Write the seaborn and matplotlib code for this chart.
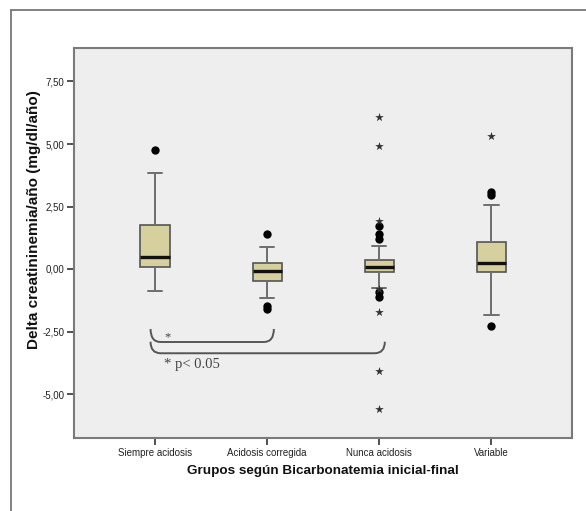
import matplotlib
matplotlib.use("Agg")
import matplotlib.pyplot as plt
import seaborn as sns
import pandas as pd
from matplotlib.path import Path
from matplotlib.patches import PathPatch
from matplotlib.lines import Line2D

# ---------------- data ----------------
categories = ["Siempre acidosis", "Acidosis corregida", "Nunca acidosis", "Variable"]
whisker_low = [-0.89, -1.17, -0.77, -1.85]
q1 = [0.07, -0.47, -0.13, -0.13]
median = [0.48, -0.07, 0.09, 0.24]
q3 = [1.76, 0.23, 0.36, 1.07]
whisker_high = [3.83, 0.87, 0.93, 2.55]

circle_groups = ["Siempre acidosis", "Acidosis corregida", "Acidosis corregida", "Acidosis corregida",
                 "Nunca acidosis", "Nunca acidosis", "Nunca acidosis", "Nunca acidosis", "Nunca acidosis",
                 "Variable", "Variable", "Variable"]
circle_values = [4.77, 1.39, -1.48, -1.60,
                 1.72, 1.39, 1.19, -0.91, -1.11,
                 3.06, 2.98, -2.27]

star_groups = ["Nunca acidosis"] * 7 + ["Variable"]
star_values = [6.07, 4.92, 1.93, -0.79, -1.73, -4.07, -5.60, 5.33]

ytick_values = [-5.0, -2.5, 0.0, 2.5, 5.0, 7.5]
ytick_labels = ["-5,00", "-2,50", "0,00", "2,50", "5,00", "7,50"]

xlabel = "Grupos según Bicarbonatemia inicial-final"
ylabel = "Delta creatininemia/año (mg/dl/año)"

# ---------------- build tables ----------------
rows = []
for i, c in enumerate(categories):
    for v in (whisker_low[i], q1[i], median[i], q3[i], whisker_high[i]):
        rows.append({"grupo": c, "valor": v})
box_df = pd.DataFrame(rows)
circ_df = pd.DataFrame({"grupo": circle_groups, "valor": circle_values})
star_df = pd.DataFrame({"grupo": star_groups, "valor": star_values})

# ---------------- figure ----------------
sns.set_style("white")
plt.rcParams["font.family"] = ["Liberation Sans", "DejaVu Sans"]

fig = plt.figure(figsize=(5.86, 5.11), dpi=100)
W, H = 586, 511
ax = fig.add_axes([74 / W, (H - 438) / H, (572 - 74) / W, (438 - 48) / H])
ax.set_facecolor("#efeeee")

box_edge = "#555555"
sns.boxplot(data=box_df, x="grupo", y="valor", order=categories, whis=(0, 100),
            width=0.26, showfliers=False, color="#d5d09d", saturation=1,
            linecolor=box_edge, linewidth=1.2,
            medianprops=dict(color="#111111", linewidth=2.4),
            whiskerprops=dict(color="#6e6e6e", linewidth=1.4),
            capprops=dict(color="#6e6e6e", linewidth=1.4),
            ax=ax)

sns.stripplot(data=circ_df, x="grupo", y="valor", order=categories, jitter=False,
              marker="o", color="black", size=6, linewidth=0, ax=ax)
sns.stripplot(data=star_df, x="grupo", y="valor", order=categories, jitter=False,
              marker="*", color="#333333", size=6.5, linewidth=0, ax=ax)

ax.set_xlim(-0.723, 3.72)
ax.set_ylim(-6.76, 8.84)
ax.set_yticks(ytick_values)
ax.set_yticklabels(ytick_labels)

for s in ax.spines.values():
    s.set_visible(True)
    s.set_color("#7a7a7a")
    s.set_linewidth(1.5)

ax.tick_params(axis="both", which="both", direction="out", length=5, width=1.2,
               color="#333333", labelsize=7, labelcolor="#222222", pad=2,
               bottom=True, left=True)
ax.set_xlabel(xlabel, fontsize=9.7, fontweight="bold", color="#111111", labelpad=5)
ax.set_ylabel(ylabel, fontsize=11, fontweight="bold", color="#111111")
ax.yaxis.set_label_coords(-0.066, 0.56)

# ---------------- significance brackets ----------------
def bracket(x0, x1, ytop, ybot, dx, color="#555555"):
    verts = [(x0, ytop), (x0, ybot), (x0 + dx, ybot),
             (x1 - dx, ybot),
             (x1, ybot), (x1, ytop)]
    codes = [Path.MOVETO, Path.CURVE3, Path.CURVE3,
             Path.LINETO,
             Path.CURVE3, Path.CURVE3]
    ax.add_patch(PathPatch(Path(verts, codes), facecolor="none", edgecolor=color,
                           linewidth=1.4, clip_on=False))

bracket(-0.04, 1.06, -2.40, -2.92, 0.09)
bracket(-0.04, 2.05, -2.91, -3.37, 0.09)
ax.text(0.11, -2.72, "*", fontsize=9, family=["Liberation Serif"], color="#444444",
        ha="center", va="center")
ax.text(0.08, -3.80, "* p< 0.05", fontsize=10.5, family=["Liberation Serif"],
        color="#444444", ha="left", va="center")

# ---------------- outer frame ----------------
fig.add_artist(Line2D([11 / W, 11 / W], [0, (H - 10) / H], color="#777777", linewidth=1.3,
                      transform=fig.transFigure))
fig.add_artist(Line2D([11 / W, 1], [(H - 10) / H, (H - 10) / H], color="#777777",
                      linewidth=1.3, transform=fig.transFigure))

fig.savefig("out.png", dpi=100)
